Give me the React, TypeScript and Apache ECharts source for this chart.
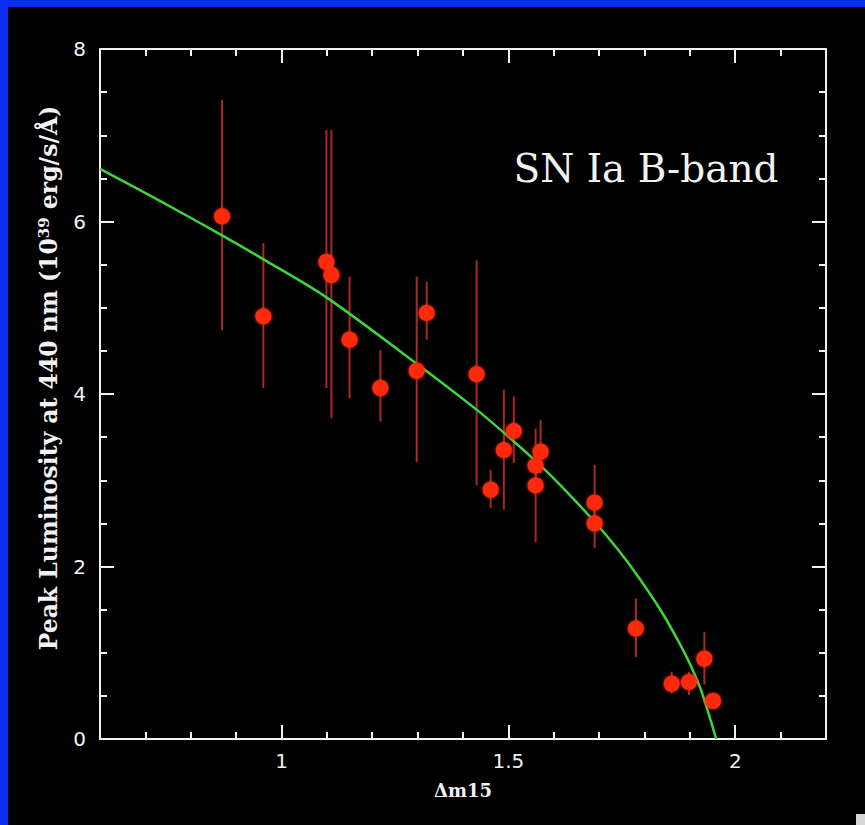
import React, { useEffect, useRef } from "react";
import * as echarts from "echarts";

// Observed supernovae: decline rate Δm15, peak luminosity, error bar low/high
const dm15 = [0.869, 0.96, 1.099, 1.11, 1.15, 1.218, 1.298, 1.32, 1.43, 1.461, 1.49, 1.512, 1.56, 1.56, 1.571, 1.69, 1.69, 1.781, 1.86, 1.898, 1.932, 1.951];
const lum = [6.06, 4.9, 5.53, 5.38, 4.63, 4.07, 4.27, 4.94, 4.23, 2.89, 3.35, 3.57, 2.94, 3.17, 3.33, 2.74, 2.5, 1.28, 0.64, 0.66, 0.93, 0.44];
const errLow = [4.74, 4.07, 4.07, 3.72, 3.95, 3.68, 3.21, 4.63, 2.94, 2.68, 2.66, 3.2, 2.28, 3.0, 3.08, 2.45, 2.21, 0.95, 0.53, 0.51, 0.63, 0.4];
const errHigh = [7.41, 5.75, 7.06, 7.06, 5.36, 4.51, 5.36, 5.3, 5.55, 3.12, 4.05, 3.97, 3.6, 3.35, 3.7, 3.18, 2.8, 1.63, 0.78, 0.78, 1.24, 0.5];

// Fitted relation
const fitX = [0.6, 0.728, 0.869, 0.964, 1.099, 1.306, 1.432, 1.512, 1.571, 1.615, 1.688, 1.741, 1.785, 1.836, 1.874, 1.902, 1.925, 1.958];
const fitY = [6.61, 6.25, 5.84, 5.55, 5.12, 4.32, 3.81, 3.45, 3.17, 2.94, 2.53, 2.2, 1.89, 1.49, 1.14, 0.85, 0.56, 0.0];

// Axis ticks
const xMajor = [1, 1.5, 2];
const xMinor = [0.7, 0.8, 0.9, 1.1, 1.2, 1.3, 1.4, 1.6, 1.7, 1.8, 1.9, 2.1];

const TITLE = "SN Ia B-band";
const X_NAME = "Δm15";
const Y_NAME = "Peak Luminosity at 440 nm (10{sup|39} erg/s/Å)";

export default function App() {
  const ref = useRef<HTMLDivElement>(null);
  useEffect(() => {
    if (!ref.current) return;
    const chart = echarts.init(ref.current, null, { renderer: "svg" });
    const white = "#f2f2f2";
    const baseX = {
      type: "value",
      min: 0.6,
      max: 2.2,
      splitLine: { show: false },
      axisLabel: { show: false },
    };
    const minorX = (pos: string) => ({
      ...baseX,
      position: pos,
      axisLine: { show: true, onZero: false, lineStyle: { color: white, width: 2 } },
      axisTick: { show: true, inside: true, length: 7, customValues: xMinor, lineStyle: { color: white, width: 2 } },
    });
    const majorX = (pos: string) => ({
      ...baseX,
      position: pos,
      axisLine: { show: false, onZero: false },
      axisTick: { show: true, inside: true, length: 14, customValues: xMajor, lineStyle: { color: white, width: 2 } },
    });
    const xAxes: any[] = [
      {
        ...minorX("bottom"),
        name: X_NAME,
        nameLocation: "middle",
        nameGap: 42,
        nameTextStyle: { color: white, fontSize: 18, fontFamily: "DejaVu Serif", fontWeight: "bold" },
      },
      {
        ...majorX("bottom"),
        axisLabel: {
          show: true,
          customValues: xMajor,
          color: white,
          fontSize: 20,
          fontFamily: "DejaVu Sans",
          margin: 12,
        },
      },
      minorX("top"),
      majorX("top"),
    ];
    const baseY = (pos: string) => ({
      type: "value",
      position: pos,
      min: 0,
      max: 8,
      interval: 2,
      splitLine: { show: false },
      minorSplitLine: { show: false },
      axisLine: { show: true, onZero: false, lineStyle: { color: white, width: 2 } },
      axisTick: { show: true, inside: true, length: 14, lineStyle: { color: white, width: 2 } },
      minorTick: { show: true, splitNumber: 4, length: 7, lineStyle: { color: white, width: 2 } },
      axisLabel: { show: false },
    });
    const yAxes: any[] = [
      {
        ...baseY("left"),
        axisLabel: { show: true, color: white, fontSize: 20, fontFamily: "DejaVu Sans", margin: 14 },
      },
      baseY("right"),
    ];

    const points = dm15.map((x, i) => [x, lum[i]]);
    const bars = dm15.map((x, i) => [x, errLow[i], errHigh[i]]);
    const fit = fitX.map((x, i) => [x, fitY[i]]);

    chart.setOption({
      animation: false,
      backgroundColor: "#000000",
      grid: { left: 100, top: 49, right: 39, bottom: 86, containLabel: false, outerBoundsMode: "none" },
      xAxis: xAxes,
      yAxis: yAxes,
      graphic: [
        { type: "rect", shape: { x: 0, y: 0, width: 865, height: 7 }, style: { fill: "#0b2ff0" }, z: 100 },
        { type: "rect", shape: { x: 0, y: 0, width: 8, height: 825 }, style: { fill: "#0b2ff0" }, z: 100 },
        { type: "rect", shape: { x: 856, y: 814, width: 9, height: 11 }, style: { fill: "#d8d8d8" }, z: 100 },
        {
          type: "text",
          x: 646,
          y: 168,
          style: {
            text: TITLE,
            fill: white,
            fontSize: 39,
            fontFamily: "DejaVu Serif",
            textAlign: "center",
            textVerticalAlign: "middle",
          },
          z: 100,
        },
        {
          type: "text",
          x: 49,
          y: 378,
          rotation: Math.PI / 2,
          style: {
            text: Y_NAME,
            fill: white,
            fontSize: 23.5,
            fontFamily: "DejaVu Serif",
            fontWeight: "bold",
            textAlign: "center",
            textVerticalAlign: "middle",
            rich: {
              sup: {
                fontSize: 15,
                fontFamily: "DejaVu Serif",
                fontWeight: "bold",
                fill: white,
                verticalAlign: "top",
                padding: [0, 0, 10, 0],
              },
            },
          },
          z: 100,
        },
      ],
      series: [
        {
          type: "custom",
          xAxisIndex: 0,
          yAxisIndex: 0,
          data: bars,
          z: 2,
          renderItem: (params: any, api: any) => {
            const p1 = api.coord([api.value(0), api.value(1)]);
            const p2 = api.coord([api.value(0), api.value(2)]);
            return {
              type: "line",
              shape: { x1: p1[0], y1: p1[1], x2: p2[0], y2: p2[1] },
              style: { stroke: "#a82a22", lineWidth: 2 },
            };
          },
        },
        {
          type: "line",
          xAxisIndex: 0,
          yAxisIndex: 0,
          data: fit,
          smooth: 0.3,
          symbol: "none",
          z: 3,
          lineStyle: { color: "#3fd43a", width: 2.5 },
        },
        {
          type: "scatter",
          xAxisIndex: 0,
          yAxisIndex: 0,
          data: points,
          symbol: "circle",
          symbolSize: 16,
          z: 4,
          itemStyle: { color: "#ff2a08", opacity: 1, shadowBlur: 3, shadowColor: "#ff3000" },
        },
      ],
    });
    return () => chart.dispose();
  }, []);
  return <div ref={ref} style={{ position: "fixed", left: 0, top: 0, width: 865, height: 825 }} />;
}
